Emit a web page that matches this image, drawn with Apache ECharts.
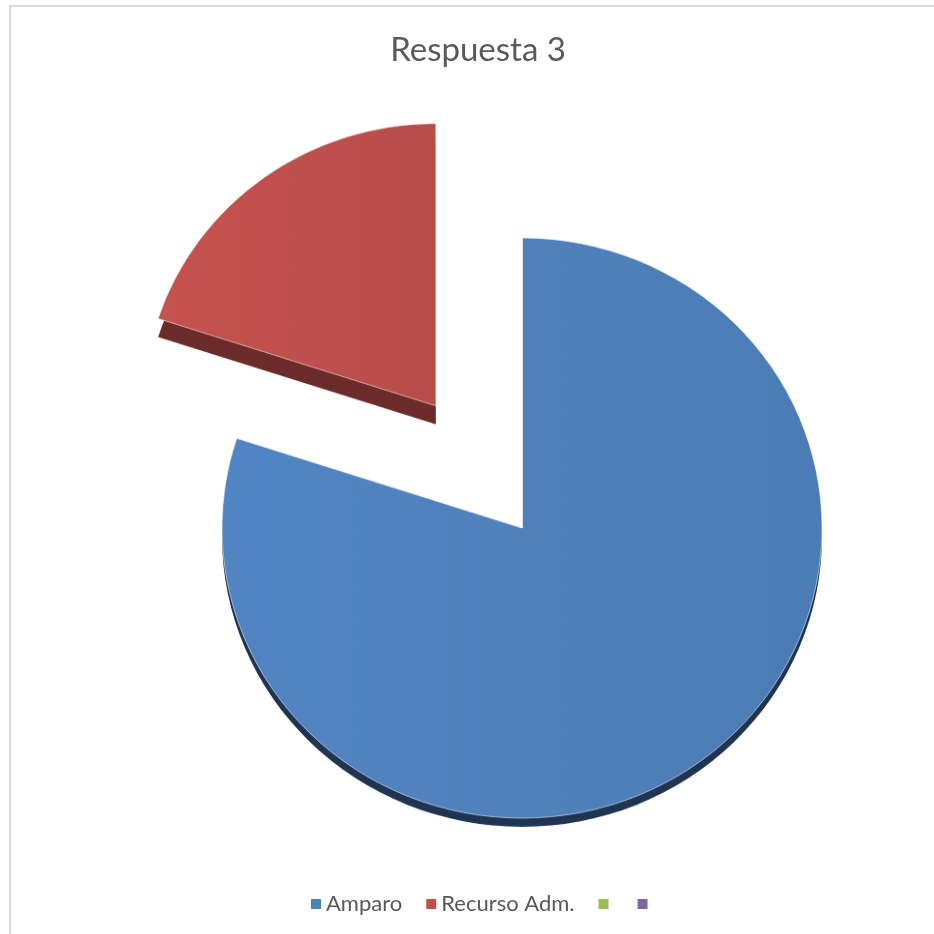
<!DOCTYPE html>
<html>
<head>
<meta charset="utf-8">
<script src="https://cdn.jsdelivr.net/npm/echarts@6/dist/echarts.min.js"></script>
<style>
  html, body { margin: 0; padding: 0; background: #ffffff; }
  .layer { position: absolute; left: 0; top: 0; width: 934px; height: 934px; }
  /* slight vertical squash gives the pie its tilted look */
  #pie { transform: scaleY(0.967); transform-origin: 0 528px; }
  #frame { position: absolute; left: 9px; top: 5px; right: 0; bottom: 0;
           border-left: 2px solid #d9d9d9; border-top: 2px solid #d9d9d9; pointer-events: none; }
</style>
</head>
<body>
<div id="pie" class="layer"></div>
<div id="text" class="layer"></div>
<div id="frame"></div>
<script>
// Respuesta 3 — share of answers
const categories = ['Amparo', 'Recurso Adm.', '\u200b', '\u200c'];
const values = [80, 20, 0, 0];
const faceColors = ['#4F81BD', '#C0504D', '#9BBB59', '#8064A2'];
const sideColors = ['#1F3452', '#6B2B29', '#4E5E2C', '#403251'];
const explodedIndex = 1;

const CX = 522, CY = 528;
const R_MAIN = 300, R_EXPLODED = 292, OFFSET = 150;
// the pulled-out slice sits a touch further back on the slab
const EX_CX = CX + 2, EX_CY = CY - 5;

function shade(c, k) {
  const n = parseInt(c.slice(1), 16);
  const f = v => Math.max(0, Math.min(255, Math.round(v * k)));
  return 'rgb(' + f(n >> 16) + ',' + f((n >> 8) & 255) + ',' + f(n & 255) + ')';
}

const clear = 'rgba(0,0,0,0)';

// face of the slab; `show(i)` decides which slices are painted
function faceData(show) {
  return categories.map((name, i) => ({
    name: name,
    value: values[i],
    selected: i === explodedIndex,
    itemStyle: show(i) ? {
      color: new echarts.graphic.LinearGradient(0, 0, 1, 0, [
        { offset: 0, color: shade(faceColors[i], 1.03) },
        { offset: 1, color: shade(faceColors[i], 0.96) }
      ]),
      borderColor: 'rgba(255,255,255,0.55)',
      borderWidth: 1
    } : { color: clear, borderWidth: 0 }
  }));
}

// side walls: darker copy pushed downward, drawn behind the faces
function sideData(show) {
  return categories.map((name, i) => ({
    name: name,
    value: values[i],
    selected: i === explodedIndex,
    itemStyle: { color: show(i) ? sideColors[i] : clear, borderWidth: 0 }
  }));
}

const common = {
  type: 'pie',
  startAngle: 90,
  clockwise: true,
  selectedMode: 'single',
  selectedOffset: OFFSET,
  label: { show: false },
  labelLine: { show: false },
  emphasis: { disabled: true },
  silent: true,
  animation: false
};

const isMain = i => i !== explodedIndex;
const isExploded = i => i === explodedIndex;

const pie = echarts.init(document.getElementById('pie'), null, { renderer: 'canvas' });
pie.setOption({
  animation: false,
  series: [
    Object.assign({}, common, { z: 1, center: [CX, CY + 9], radius: R_MAIN, data: sideData(isMain) }),
    Object.assign({}, common, { z: 1, center: [EX_CX, EX_CY + 19], radius: R_EXPLODED, data: sideData(isExploded) }),
    Object.assign({}, common, { z: 3, center: [CX, CY], radius: R_MAIN, data: faceData(isMain) }),
    Object.assign({}, common, { z: 3, center: [EX_CX, EX_CY], radius: R_EXPLODED, data: faceData(isExploded) })
  ]
});

// title and legend on an unsquashed layer
const text = echarts.init(document.getElementById('text'), null, { renderer: 'canvas' });
text.setOption({
  animation: false,
  title: {
    text: 'Respuesta 3',
    left: 473,
    textAlign: 'center',
    top: 29,
    textStyle: { fontFamily: 'Lato', fontSize: 33, fontWeight: 'normal', color: '#595959' }
  },
  legend: {
    data: categories.map((name, i) => ({ name: name, itemStyle: { color: faceColors[i] } })),
    left: 306,
    top: 888,
    icon: 'rect',
    itemWidth: 10,
    itemHeight: 10,
    itemGap: 24,
    selectedMode: false,
    textStyle: { fontFamily: 'Lato', fontSize: 22, color: '#595959' }
  },
  series: [
    Object.assign({}, common, {
      center: [CX, CY],
      radius: 0,
      data: categories.map((name, i) => ({ name: name, value: values[i], itemStyle: { color: faceColors[i], borderWidth: 0 } }))
    })
  ]
});
</script>
</body>
</html>
